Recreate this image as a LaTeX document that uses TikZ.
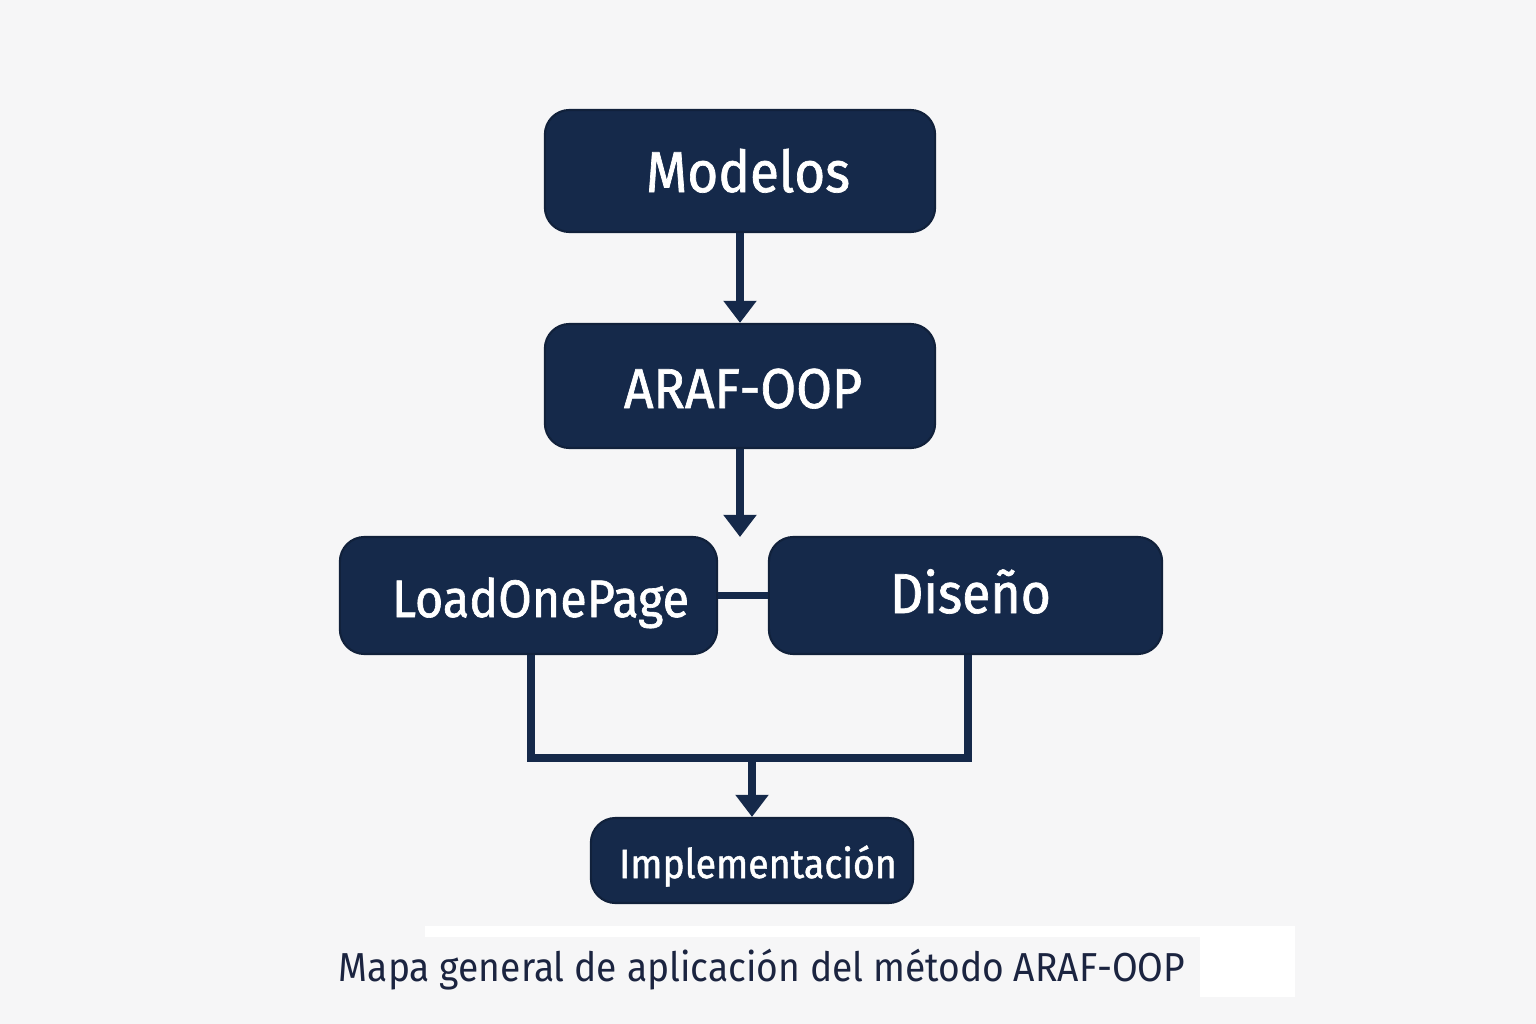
\documentclass[tikz,border=0pt]{standalone}
\usepackage{fontspec}
\setmainfont{Fira Sans}
\newfontfamily\boxfont[FakeStretch=0.92,FakeBold=1.2]{Fira Sans}
\newfontfamily\capfont[FakeStretch=0.92]{Fira Sans}
\usetikzlibrary{arrows.meta}
\definecolor{bg}{HTML}{F6F6F7}
\definecolor{navy}{HTML}{15294A}
\definecolor{captxt}{HTML}{1B2440}
\newcommand{\bl}[2]{\raisebox{#1}[0pt][0pt]{#2}}
\begin{document}
\begin{tikzpicture}[x=0.01cm,y=-0.01cm,
  box/.style={draw=navy!80!black, line width=0.6pt, fill=navy, rounded corners=7pt, text=white, inner sep=0pt},
  conn/.style={draw=navy, line width=2pt},
  arr/.style={conn, -{Triangle[width=9.1pt,length=6.3pt]}}]
\fill[bg] (0,0) rectangle (1536,1024);
\useasboundingbox (0,0) rectangle (1536,1024);
\node[box, minimum width=3.9cm, minimum height=1.22cm, font=\boxfont\fontsize{16.4}{19}\selectfont] (mod) at (740,171) {\hspace*{0.16cm}\bl{-0.21cm}{Modelos}};
\node[box, minimum width=3.9cm, minimum height=1.24cm, font=\boxfont\fontsize{16}{19}\selectfont] (ara) at (740,386) {\hspace*{0.06cm}\bl{-0.22cm}{ARAF-OOP}};
\node[box, minimum width=3.77cm, minimum height=1.17cm, font=\boxfont\fontsize{15}{18}\selectfont] (lop) at (528.5,595.5) {\hspace*{0.24cm}\bl{-0.215cm}{LoadOnePage}};
\node[box, minimum width=3.93cm, minimum height=1.17cm, font=\boxfont\fontsize{16}{19}\selectfont] (dis) at (965.5,595.5) {\hspace*{0.1cm}\bl{-0.175cm}{Diseño}};
\node[box, minimum width=3.22cm, minimum height=0.85cm, font=\boxfont\fontsize{11.6}{14}\selectfont] (imp) at (752,860.5) {\hspace*{0.12cm}\bl{-0.175cm}{Implementación}};
\draw[arr] (mod.south) -- (ara.north);
\draw[arr] (ara.south) -- (740,537);
\draw[conn] (lop.east) -- (dis.west);
\coordinate (j) at (752,758);
\draw[conn] ([xshift=0.025cm]lop.south) |- (j) -| ([xshift=0.025cm]dis.south);
\draw[arr] (j) -- (imp.north);
\fill[white] (425,926) rectangle (1295,997);
\fill[bg] (330,937) rectangle (1200,1005);
\node[text=captxt, font=\capfont\fontsize{11.5}{14}\selectfont] (cap) at (762,970) {Mapa general de aplicación del método ARAF-OOP};
\end{tikzpicture}
\end{document}
